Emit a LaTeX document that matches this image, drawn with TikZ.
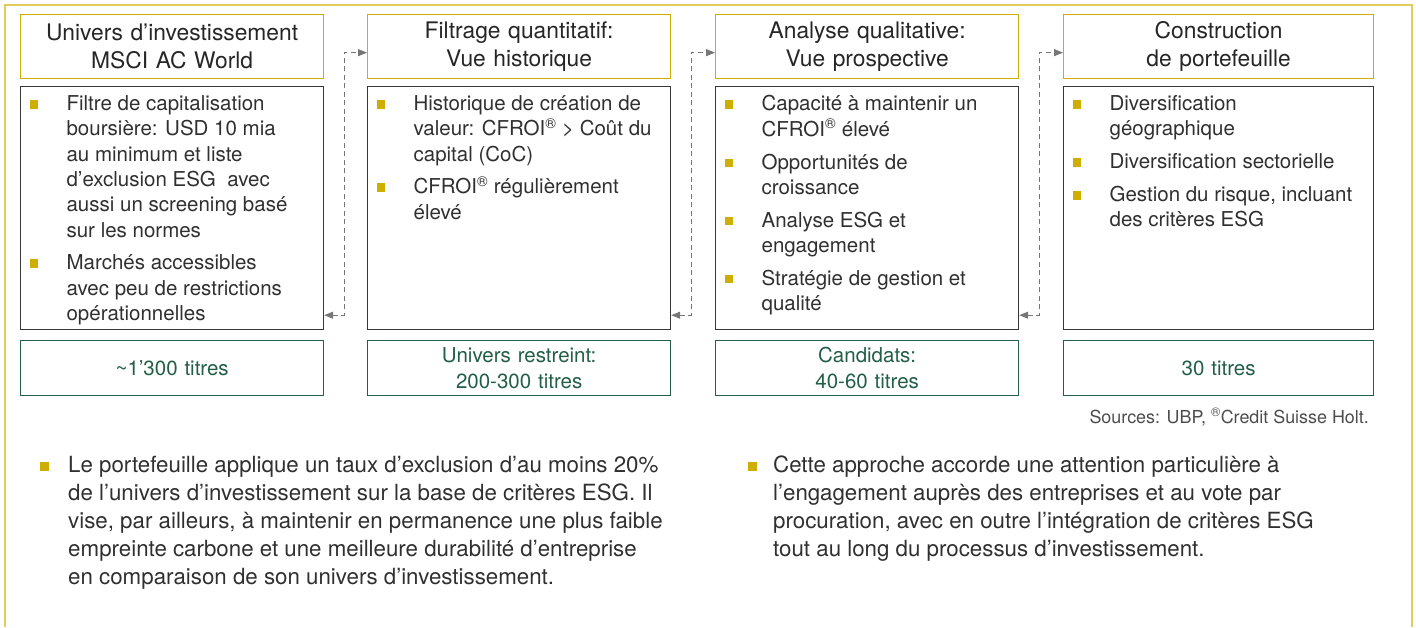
\documentclass[tikz,border=0pt]{standalone}
\usepackage{fontspec}
\setmainfont{TeX Gyre Heros}
\usetikzlibrary{calc,arrows.meta}
\definecolor{ubpgold}{RGB}{206,174,0}
\definecolor{framegold}{RGB}{226,204,92}
\definecolor{boxgrey}{RGB}{55,55,55}
\definecolor{ubpgreen}{RGB}{34,94,72}
\definecolor{txtgrey}{RGB}{48,48,48}
\definecolor{arrowgrey}{RGB}{118,118,118}
\newcommand{\boxfont}{\fontsize{20.5}{25.3}\selectfont}
\newcommand{\titlefont}{\fontsize{22.8}{28}\selectfont}
\newcommand{\notefont}{\fontsize{22.3}{28}\selectfont}
\newcommand{\pitem}[2][37pt]{\par\hangindent=#1\hangafter=1\noindent\makebox[#1][l]{\textcolor{ubpgold}{\rule[2pt]{8.5pt}{8.5pt}}}#2\par}

\begin{document}
\begin{tikzpicture}[x=1pt,y=-1pt,
	titlebox/.style={draw=ubpgold, line width=1.3pt, anchor=north west, inner xsep=9pt, text width=285pt, minimum height=64pt, align=center, font=\titlefont, text=black!85},
	content/.style={draw=boxgrey, line width=1.2pt, anchor=north west, inner xsep=9pt, inner ysep=9pt, text=txtgrey},
	countbox/.style={draw=ubpgreen, line width=1.3pt, anchor=north west, inner xsep=9pt, text width=285pt, minimum height=55pt, align=center, font=\fontsize{20.5}{26}\selectfont, text=ubpgreen},
	note/.style={anchor=north west, inner sep=0pt, text=txtgrey},
	flow/.style={draw=arrowgrey, line width=1.1pt, dash pattern=on 5pt off 3.5pt, {Triangle[length=9pt,width=7pt]}-{Triangle[length=9pt,width=7pt]}}]
	%%%%% FRAME %%%%%
	\useasboundingbox (0,0) rectangle (1416,627);
	\draw[framegold, line width=1.5pt] (5,627) -- (5,5) -- (1412,5) -- (1412,627);
	
	%%%%% STEP TITLES %%%%%
	\node[titlebox] (t1) at (20,14) {Univers d’investissement\\MSCI AC World};
	\node[titlebox] (t2) at (367,14) {Filtrage quantitatif:\\Vue historique};
	\node[titlebox] (t3) at (715,14) {Analyse qualitative:\\Vue prospective};
	\node[titlebox, text width=292pt] (t4) at (1063,14) {Construction\\de portefeuille};
	
	%%%%% STEP CONTENTS %%%%%
	\node[content] (c1) at (20,86) {\begin{minipage}[t][225pt][t]{285pt}\boxfont\setlength{\parskip}{7.5pt}
		\pitem{Filtre de capitalisation\\boursière: USD 10 mia\\au minimum et liste\\d’exclusion ESG\ \ avec\\aussi un screening basé\\sur les normes}
		\pitem{Marchés accessibles\\avec peu de restrictions\\opérationnelles}
	\end{minipage}};
	\node[content] (c2) at (367,86) {\begin{minipage}[t][225pt][t]{285pt}\boxfont\setlength{\parskip}{7.5pt}
		\pitem{Historique de création de\\valeur: CFROI\textsuperscript{®} > Coût du\\capital (CoC)}
		\pitem{CFROI\textsuperscript{®} régulièrement\\élevé}
	\end{minipage}};
	\node[content] (c3) at (715,86) {\begin{minipage}[t][225pt][t]{285pt}\boxfont\setlength{\parskip}{7.5pt}
		\pitem{Capacité à maintenir un\\CFROI\textsuperscript{®} élevé}
		\pitem{Opportunités de\\croissance}
		\pitem{Analyse ESG et\\engagement}
		\pitem{Stratégie de gestion et\\qualité}
	\end{minipage}};
	\node[content] (c4) at (1063,86) {\begin{minipage}[t][225pt][t]{292pt}\boxfont\setlength{\parskip}{7.5pt}
		\pitem{Diversification\\géographique}
		\pitem{Diversification sectorielle}
		\pitem{Gestion du risque, incluant\\des critères ESG}
	\end{minipage}};
	
	%%%%% NUMBER OF STOCKS %%%%%
	\node[countbox] (n1) at (20,340) {\textasciitilde1’300 titres};
	\node[countbox] (n2) at (367,340) {Univers restreint:\\200-300 titres};
	\node[countbox] (n3) at (715,340) {Candidats:\\40-60 titres};
	\node[countbox, text width=292pt] (n4) at (1063,340) {30 titres};
	
	%%%%% LINKS %%%%%
	\draw[flow] ($(c1.south east)+(0,-15)$) -- ++(20,0) |- ($(t2.west)+(0,6)$);
	\draw[flow] ($(c2.south east)+(0,-15)$) -- ++(20,0) |- ($(t3.west)+(0,6)$);
	\draw[flow] ($(c3.south east)+(0,-15)$) -- ++(20,0) |- ($(t4.west)+(0,6)$);
	
	\node[anchor=east, inner sep=0pt, font=\fontsize{17.9}{20}\selectfont, text=black!70] (src) at (1369,417) {Sources: UBP, \textsuperscript{®}Credit Suisse Holt.};
	
	%%%%% NOTES %%%%%
	\node[note] (p1) at (40,456) {\begin{minipage}[t]{690pt}\notefont\pitem[28pt]{Le portefeuille applique un taux d’exclusion d’au moins 20\%\\de l’univers d’investissement sur la base de critères ESG. Il\\vise, par ailleurs, à maintenir en permanence une plus faible\\empreinte carbone et une meilleure durabilité d’entreprise\\en comparaison de son univers d’investissement.}\end{minipage}};
	\node[note] (p2) at (748,456) {\begin{minipage}[t]{630pt}\notefont\pitem[25pt]{Cette approche accorde une attention particulière à\\l’engagement auprès des entreprises et au vote par\\procuration, avec en outre l’intégration de critères ESG\\tout au long du processus d’investissement.}\end{minipage}};
\end{tikzpicture}
\end{document}
